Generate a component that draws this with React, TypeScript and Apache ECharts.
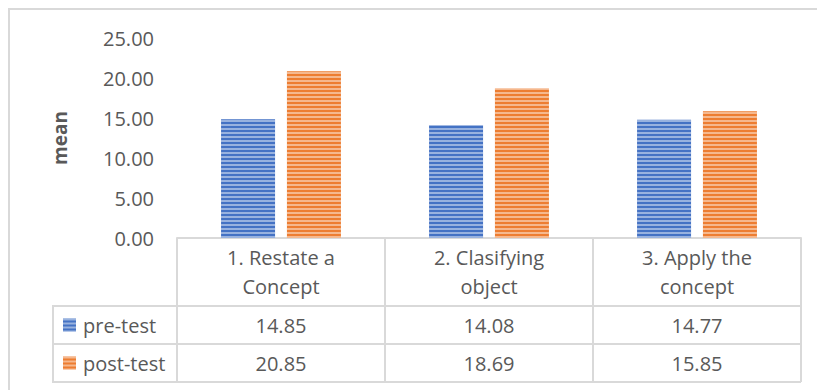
import React, { useEffect, useRef } from "react";
import * as echarts from "echarts";

const categories = ["1. Restate a\nConcept", "2. Clasifying\nobject", "3. Apply the\nconcept"];
const seriesNames = ["pre-test", "post-test"];
const preTest = [14.85, 14.08, 14.77];
const postTest = [20.85, 18.69, 15.85];
const yTicks = { min: 0, max: 25, interval: 5 };

const FONT = "Open Sans";
const TXT = "#595959";
const LINE = "#d9d9d9";
const FS = 20;

export default function App() {
  const ref = useRef<HTMLDivElement>(null);
  useEffect(() => {
    const chart = echarts.init(ref.current!, null, { renderer: "svg" });
    const stripe = (c: string) => ({
      symbol: "rect",
      symbolSize: 1,
      dashArrayX: [1, 0],
      dashArrayY: [2, 2],
      rotation: 0,
      color: c,
    });
    chart.setOption({
      animation: false,
      textStyle: { fontFamily: FONT },
      grid: { left: 177, right: 16, top: 38, bottom: 152, containLabel: false },
      legend: {
        orient: "vertical",
        left: 58,
        top: 309,
        itemWidth: 13,
        itemHeight: 13,
        itemGap: 16,
        icon: "rect",
        textStyle: { color: TXT, fontSize: FS, lineHeight: 22, fontFamily: FONT, padding: [0, 0, 0, 2] },
        data: seriesNames,
      },
      xAxis: [
        {
          type: "category",
          data: categories,
          axisLine: { show: true, lineStyle: { color: LINE, width: 2 } },
          axisTick: { show: true, length: 144, lineStyle: { color: LINE, width: 2 } },
          axisLabel: {
            color: TXT,
            fontSize: FS,
            lineHeight: 29,
            margin: 34,
            verticalAlign: "middle",
            interval: 0,
          },
        },
        {
          type: "category",
          data: preTest.map((v) => v.toFixed(2)),
          position: "bottom",
          offset: 87,
          axisLine: { show: false },
          axisTick: { show: false },
          axisLabel: { color: TXT, fontSize: FS, margin: 0, verticalAlign: "middle", interval: 0 },
        },
        {
          type: "category",
          data: postTest.map((v) => v.toFixed(2)),
          position: "bottom",
          offset: 125,
          axisLine: { show: false },
          axisTick: { show: false },
          axisLabel: { color: TXT, fontSize: FS, margin: 0, verticalAlign: "middle", interval: 0 },
        },
      ],
      yAxis: {
        type: "value",
        min: yTicks.min,
        max: yTicks.max,
        interval: yTicks.interval,
        name: "mean",
        nameLocation: "middle",
        nameGap: 108,
        nameRotate: 90,
        nameTextStyle: { color: TXT, fontSize: 19, fontWeight: "bold" },
        axisLine: { show: false },
        axisTick: { show: false },
        splitLine: { show: false },
        axisLabel: {
          color: TXT,
          fontSize: FS,
          margin: 23,
          formatter: (v: number) => v.toFixed(2),
        },
      },
      series: [
        {
          name: seriesNames[0],
          type: "bar",
          data: preTest,
          barWidth: 54,
          barGap: "22%",
          itemStyle: { color: "#4472C4", decal: stripe("rgba(255,255,255,0.45)") },
        },
        {
          name: seriesNames[1],
          type: "bar",
          data: postTest,
          barWidth: 54,
          barGap: "22%",
          itemStyle: { color: "#ED7D31", decal: stripe("rgba(255,255,255,0.45)") },
        },
      ],
      graphic: [
        {
          type: "rect",
          shape: { x: 9, y: 9, width: 830, height: 400 },
          style: { fill: "none", stroke: LINE, lineWidth: 2 },
          silent: true,
        },
        {
          type: "line",
          shape: { x1: 53, y1: 306, x2: 801, y2: 306 },
          style: { stroke: LINE, lineWidth: 2 },
        },
        {
          type: "line",
          shape: { x1: 53, y1: 344, x2: 801, y2: 344 },
          style: { stroke: LINE, lineWidth: 2 },
        },
        {
          type: "line",
          shape: { x1: 53, y1: 382, x2: 801, y2: 382 },
          style: { stroke: LINE, lineWidth: 2 },
        },
        {
          type: "line",
          shape: { x1: 53, y1: 305, x2: 53, y2: 383 },
          style: { stroke: LINE, lineWidth: 2 },
        },
      ],
    });
    return () => chart.dispose();
  }, []);
  return (
    <div
      ref={ref}
      style={{ position: "fixed", left: 0, top: 0, width: 817, height: 390, background: "#fff" }}
    />
  );
}
